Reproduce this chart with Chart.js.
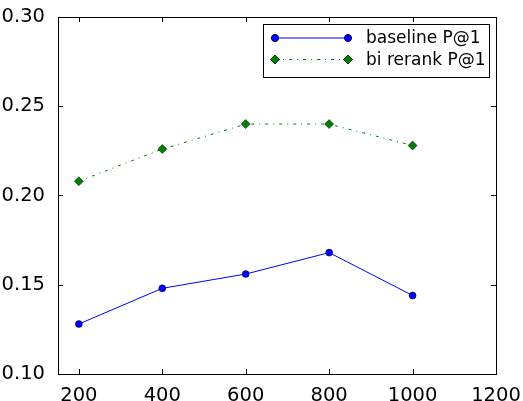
<!DOCTYPE html>
<html>
<head>
<meta charset="UTF-8">
<script src="https://cdn.jsdelivr.net/npm/chart.js"></script>
<style>
  html, body { margin: 0; padding: 0; background: #fff; }
  #wrap { width: 523px; height: 401px; }
</style>
</head>
<body>
<div id="wrap"><canvas id="graphique" width="523" height="401"></canvas></div>
<script>
// data
const sizes = [200, 400, 600, 800, 1000];
const baselineP1 = [0.128, 0.148, 0.156, 0.168, 0.144];
const birerankP1 = [0.208, 0.226, 0.240, 0.240, 0.228];
const xTicks = [200, 400, 600, 800, 1000, 1200];
const yTicks = [0.10, 0.15, 0.20, 0.25, 0.30];
const seriesNames = ['baseline P@1', 'bi rerank P@1'];

const FONT = 'DejaVu Sans';

// box, inward ticks on all four sides and legend inside the plot
const boxPlugin = {
    id: 'boxPlugin',
    afterDatasetsDraw(chart) {
        const { ctx, chartArea: a, scales } = chart;
        ctx.save();
        ctx.strokeStyle = '#000';
        ctx.lineWidth = 1;
        ctx.beginPath();
        xTicks.forEach(v => {
            const x = Math.round(scales.x.getPixelForValue(v)) + 0.5;
            ctx.moveTo(x, a.bottom); ctx.lineTo(x, a.bottom - 5);
            ctx.moveTo(x, a.top); ctx.lineTo(x, a.top + 5);
        });
        yTicks.forEach(v => {
            const y = Math.round(scales.y.getPixelForValue(v)) + 0.5;
            ctx.moveTo(a.left, y); ctx.lineTo(a.left + 5, y);
            ctx.moveTo(a.right, y); ctx.lineTo(a.right - 5, y);
        });
        ctx.stroke();
        ctx.strokeRect(Math.round(a.left) + 0.5, Math.round(a.top) + 0.5,
            Math.round(a.right - a.left), Math.round(a.bottom - a.top));

        // legend
        const lx = 263.5, ly = 24.5, lw = 226, lh = 53;
        ctx.fillStyle = '#fff';
        ctx.fillRect(lx, ly, lw, lh);
        ctx.strokeRect(lx, ly, lw, lh);
        ctx.font = '17px "' + FONT + '"';
        ctx.textBaseline = 'middle';
        chart.data.datasets.forEach((ds, i) => {
            const yy = 38 + i * 21.5;
            ctx.save();
            ctx.strokeStyle = ds.borderColor;
            ctx.lineWidth = ds.borderWidth;
            ctx.setLineDash(ds.borderDash || []);
            ctx.beginPath();
            ctx.moveTo(275, yy); ctx.lineTo(348, yy);
            ctx.stroke();
            ctx.restore();
            [275, 348].forEach(px => {
                Chart.helpers.drawPoint(ctx, {
                    pointStyle: ds.pointStyle, radius: ds.pointRadius,
                    borderWidth: ds.pointBorderWidth, rotation: 0
                }, px, yy);
                ctx.fillStyle = ds.pointBackgroundColor;
                ctx.strokeStyle = ds.pointBorderColor;
                ctx.lineWidth = ds.pointBorderWidth;
                ctx.fill();
                ctx.stroke();
            });
            ctx.fillStyle = '#000';
            ctx.fillText(ds.label, 366, yy + 1);
        });
        ctx.restore();
    }
};

const ctx = document.getElementById('graphique').getContext('2d');
const myChart = new Chart(ctx, {
    type: 'line',
    data: {
        datasets: [{
            label: seriesNames[0],
            data: sizes.map((s, i) => ({ x: s, y: baselineP1[i] })),
            borderColor: '#0000ff',
            borderWidth: 1,
            pointStyle: 'circle',
            pointRadius: 3.5,
            pointBackgroundColor: '#0000ff',
            pointBorderColor: '#000',
            pointBorderWidth: 0.5,
            tension: 0
        }, {
            label: seriesNames[1],
            data: sizes.map((s, i) => ({ x: s, y: birerankP1[i] })),
            borderColor: '#008000',
            borderWidth: 1,
            borderDash: [3, 5, 1, 5],
            pointStyle: 'rectRot',
            pointRadius: 4.5,
            pointBackgroundColor: '#008000',
            pointBorderColor: '#000',
            pointBorderWidth: 0.5,
            tension: 0
        }]
    },
    options: {
        responsive: false,
        animation: false,
        layout: { padding: { top: 17, right: 27, left: 0, bottom: 0 } },
        plugins: { legend: { display: false }, tooltip: { enabled: false } },
        scales: {
            x: {
                type: 'linear', min: 150, max: 1200,
                afterBuildTicks: s => { s.ticks = xTicks.map(v => ({ value: v })); },
                afterFit: s => { s.height = 27; },
                grid: { display: false },
                border: { display: false },
                ticks: { color: '#000', padding: 2, maxRotation: 0, font: { family: FONT, size: 19.5 },
                    callback: v => String(v) }
            },
            y: {
                min: 0.10, max: 0.30,
                afterBuildTicks: s => { s.ticks = yTicks.map(v => ({ value: v })); },
                afterFit: s => { s.width = 58; },
                grid: { display: false },
                border: { display: false },
                ticks: { color: '#000', padding: 5, font: { family: FONT, size: 19.5 },
                    callback: v => v.toFixed(2) }
            }
        }
    },
    plugins: [boxPlugin]
});
</script>
</body>
</html>
